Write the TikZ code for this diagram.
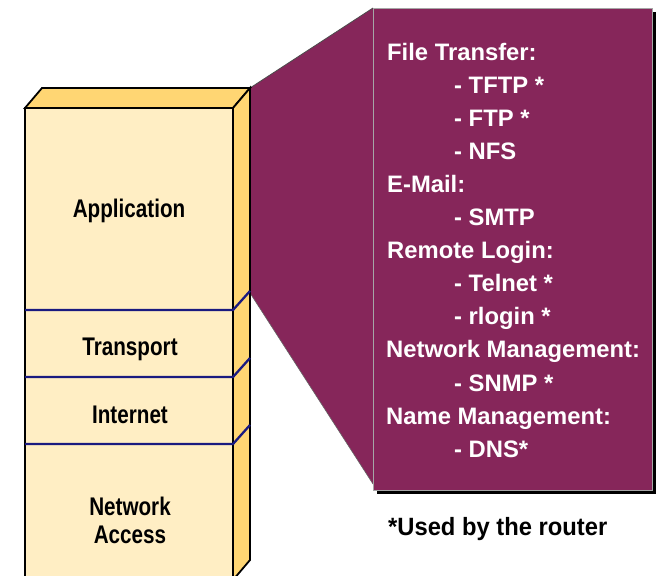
\documentclass[tikz,border=0pt]{standalone}
\usepackage{fontspec}
\setmainfont{Liberation Sans}
\newfontfamily\condfont{Liberation Sans}[FakeStretch=0.81]
\newfontfamily\notefont{Liberation Sans}[FakeStretch=0.95]
\definecolor{boxpurple}{RGB}{134,38,90}
\definecolor{frontcol}{RGB}{255,238,196}
\definecolor{sidecol}{RGB}{255,214,115}
\definecolor{navy}{RGB}{26,26,128}
\tikzset{
  headtxt/.style={anchor=base west,inner sep=0pt,text=white,font=\fontsize{23.8}{28}\selectfont\bfseries},
  itemtxt/.style={headtxt},
  layertxt/.style={anchor=base,inner sep=0pt,text=black,align=center,font=\condfont\fontsize{25.5}{28}\selectfont\bfseries},
  notetxt/.style={anchor=base west,inner sep=0pt,text=black,font=\notefont\fontsize{25}{28}\selectfont\bfseries},
  layerline/.style={draw=navy,line width=2.3pt,line join=miter},
  edge/.style={draw=black,line width=1.8pt,line join=miter}
}
\begin{document}
\begin{tikzpicture}[x=1pt,y=-1pt]
\useasboundingbox (0,0) rectangle (662,576);
\clip (0,0) rectangle (662,576);
\fill[white] (0,0) rectangle (662,576);
% corners
\coordinate (fTL) at (25,108);
\coordinate (fTR) at (233,108);
\coordinate (fBL) at (25,580);
\coordinate (fBR) at (233,580);
\coordinate (bTL) at (42,88);
\coordinate (bTR) at (250,88);
\coordinate (bBR) at (250,560);
\coordinate (sL) at (250,293);
\coordinate (boxTL) at (373,8);
\coordinate (boxBR) at (652,490);
\coordinate (fnB) at (373,484);
% funnel
\fill[boxpurple] (bTR) -- (boxTL) -- (fnB) -- (sL) -- cycle;
\draw[black!70,line width=0.8pt] (bTR) -- (boxTL);
\draw[black!60,line width=0.6pt] (sL) -- (fnB);
% box with shadow
\fill[black] (377,12) rectangle (656,494);
\fill[boxpurple] (boxTL) rectangle (boxBR);
\draw[black!35,line width=0.8pt] (boxTL) rectangle (boxBR);
% stack
\filldraw[fill=sidecol,edge] (fTL) -- (bTL) -- (bTR) -- (fTR) -- cycle;
\filldraw[fill=sidecol,edge] (fTR) -- (bTR) -- (bBR) -- (fBR) -- cycle;
\filldraw[fill=frontcol,edge] (fTL) rectangle (fBR);
\draw[layerline] (25,310) -- (233,310) -- (250,291);
\draw[layerline] (25,377) -- (233,377) -- (250,358);
\draw[layerline] (25,444) -- (233,444) -- (250,425);
% layer labels
\node[layertxt] (app) at (129,217) {Application};
\node[layertxt] (trn) at (130,355) {Transport};
\node[layertxt] (inet) at (130,423) {Internet};
\node[layertxt] (net) at (130,515) {Network};
\node[layertxt] (acc) at (130,543) {Access};
% protocol list
\node[headtxt] (h1) at (387,60) {File Transfer:};
\node[itemtxt] (i1) at (454,93.1) {- TFTP *};
\node[itemtxt] (i2) at (454,126.2) {- FTP *};
\node[itemtxt] (i3) at (454,159.3) {- NFS};
\node[headtxt] (h2) at (387,192.4) {E-Mail:};
\node[itemtxt] (i4) at (454,225.5) {- SMTP};
\node[headtxt] (h3) at (387,258.6) {Remote Login:};
\node[itemtxt] (i5) at (454,291.7) {- Telnet *};
\node[itemtxt] (i6) at (454,324.8) {- rlogin *};
\node[headtxt] (h4) at (386,357.9) {Network Management:};
\node[itemtxt] (i7) at (454,391) {- SNMP *};
\node[headtxt] (h5) at (386,424.1) {Name Management:};
\node[itemtxt] (i8) at (454,457.2) {- DNS*};
\node[notetxt] (note) at (388,535) {*Used by the router};
\end{tikzpicture}
\end{document}
